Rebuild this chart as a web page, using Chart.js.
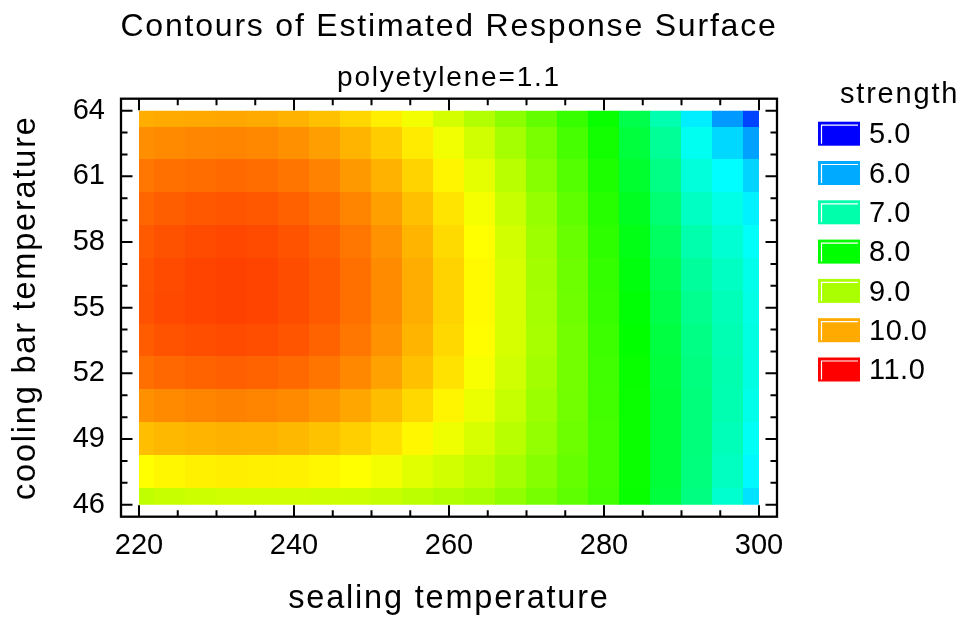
<!DOCTYPE html>
<html>
<head>
<meta charset="utf-8">
<title>Contours of Estimated Response Surface</title>
<script src="https://cdn.jsdelivr.net/npm/chart.js@4.4.1/dist/chart.umd.min.js"></script>
<style>
  html, body { margin: 0; padding: 0; background: #fff; }
  #wrap { width: 964px; height: 624px; }
</style>
</head>
<body>
<div id="wrap"><canvas id="chart" width="964" height="624"></canvas></div>
<script>
// grid the surface was read on (x: sealing temperature, y: cooling bar temperature)
const sealingTemps = [220, 224, 228, 232, 236, 240, 244, 248, 252, 256, 260, 264, 268, 272, 276, 280, 284, 288, 292, 296, 300]
const coolingTemps = [64, 62.5, 61, 59.5, 58, 56.5, 55, 53.5, 52, 50.5, 49, 47.5, 46]

// estimated strength, one row per cooling temperature (top row = 64)
const strength = [
  [9.98, 10.00, 10.01, 10.02, 10.00, 9.95, 9.87, 9.74, 9.60, 9.43, 9.24, 9.04, 8.82, 8.58, 8.32, 8.04, 7.55, 6.97, 6.40, 5.90, 5.40],
  [10.16, 10.19, 10.21, 10.22, 10.20, 10.15, 10.07, 9.94, 9.80, 9.62, 9.42, 9.22, 8.97, 8.71, 8.41, 8.10, 7.64, 7.11, 6.58, 6.27, 5.95],
  [10.30, 10.34, 10.36, 10.38, 10.36, 10.31, 10.23, 10.10, 9.95, 9.76, 9.56, 9.35, 9.09, 8.80, 8.49, 8.16, 7.73, 7.22, 6.72, 6.49, 6.25],
  [10.40, 10.45, 10.48, 10.50, 10.48, 10.43, 10.35, 10.22, 10.06, 9.87, 9.66, 9.44, 9.17, 8.88, 8.56, 8.22, 7.81, 7.33, 6.85, 6.64, 6.42],
  [10.47, 10.52, 10.56, 10.58, 10.56, 10.51, 10.43, 10.30, 10.14, 9.94, 9.72, 9.50, 9.23, 8.93, 8.61, 8.27, 7.88, 7.43, 6.98, 6.76, 6.54],
  [10.51, 10.56, 10.60, 10.62, 10.60, 10.55, 10.47, 10.34, 10.18, 9.98, 9.76, 9.53, 9.26, 8.96, 8.64, 8.30, 7.93, 7.51, 7.08, 6.85, 6.62],
  [10.52, 10.57, 10.60, 10.62, 10.60, 10.55, 10.47, 10.34, 10.18, 9.98, 9.76, 9.53, 9.26, 8.97, 8.66, 8.32, 7.97, 7.57, 7.16, 6.91, 6.66],
  [10.46, 10.51, 10.54, 10.56, 10.54, 10.50, 10.42, 10.30, 10.14, 9.94, 9.73, 9.51, 9.26, 8.98, 8.68, 8.35, 8.01, 7.62, 7.22, 6.95, 6.68],
  [10.35, 10.39, 10.42, 10.44, 10.42, 10.38, 10.31, 10.20, 10.05, 9.87, 9.67, 9.46, 9.22, 8.96, 8.68, 8.37, 8.04, 7.65, 7.26, 6.97, 6.67],
  [10.15, 10.19, 10.22, 10.24, 10.22, 10.19, 10.12, 10.02, 9.89, 9.73, 9.56, 9.38, 9.16, 8.92, 8.67, 8.39, 8.06, 7.67, 7.28, 6.96, 6.63],
  [9.88, 9.92, 9.94, 9.96, 9.95, 9.92, 9.86, 9.78, 9.68, 9.55, 9.41, 9.27, 9.08, 8.87, 8.64, 8.40, 8.06, 7.67, 7.28, 6.92, 6.56],
  [9.50, 9.55, 9.58, 9.60, 9.59, 9.58, 9.55, 9.50, 9.43, 9.33, 9.23, 9.13, 8.97, 8.79, 8.60, 8.40, 8.06, 7.67, 7.27, 6.87, 6.46],
  [9.13, 9.17, 9.20, 9.22, 9.22, 9.22, 9.21, 9.20, 9.16, 9.10, 9.04, 8.98, 8.85, 8.70, 8.55, 8.38, 8.04, 7.65, 7.25, 6.79, 6.33]
]

const xTicks = [220, 240, 260, 280, 300]
const yTicks = [46, 49, 52, 55, 58, 61, 64]
const legendValues = [5, 6, 7, 8, 9, 10, 11]

const FONT = '"Liberation Sans", Arial, Helvetica, sans-serif'
Chart.defaults.font.family = FONT
Chart.defaults.color = '#000'

// hue runs blue (5) -> red (11), same as the legend swatches
function strengthColor (v) {
  const lo = legendValues[0]
  const hi = legendValues[legendValues.length - 1]
  const t = Math.max(0, Math.min(1, (v - lo) / (hi - lo)))
  return 'hsl(' + (240 - 240 * t) + ', 100%, 50%)'
}

const cells = []
coolingTemps.forEach((y, j) => {
  sealingTemps.forEach((x, i) => {
    cells.push({ x: x, y: y, v: strength[j][i] })
  })
})

const surfacePlugin = {
  id: 'surface',
  afterLayout: chart => {
    // the main title is a bit wider than the plot, let it overhang
    const t = chart.titleBlock
    if (t) {
      t.left -= 60
      t.right += 60
    }
  },
  beforeDraw: chart => {
    // titles are drawn before the datasets, give them a little tracking
    chart.ctx.letterSpacing = '1.8px'
  },
  beforeDatasetsDraw: chart => {
    const { ctx, chartArea } = chart
    const xs = chart.scales.x
    const ys = chart.scales.y
    const halfX = (sealingTemps[1] - sealingTemps[0]) / 2
    const halfY = (coolingTemps[0] - coolingTemps[1]) / 2
    ctx.save()
    ctx.beginPath()
    ctx.rect(chartArea.left, chartArea.top, chartArea.width, chartArea.height)
    ctx.clip()
    cells.forEach(c => {
      const x0 = Math.floor(xs.getPixelForValue(c.x - halfX))
      const x1 = Math.ceil(xs.getPixelForValue(c.x + halfX))
      const y0 = Math.floor(ys.getPixelForValue(c.y + halfY))
      const y1 = Math.ceil(ys.getPixelForValue(c.y - halfY))
      ctx.fillStyle = strengthColor(c.v)
      ctx.fillRect(x0, y0, x1 - x0, y1 - y0)
    })
    ctx.restore()
  },
  afterDatasetsDraw: chart => {
    const { ctx, chartArea } = chart
    const xs = chart.scales.x
    const ys = chart.scales.y
    const L = chartArea.left - 18
    const R = chartArea.right + 18
    const T = chartArea.top - 12
    const B = chartArea.bottom + 12
    ctx.save()
    ctx.strokeStyle = '#000'
    ctx.lineWidth = 2.3
    ctx.strokeRect(L, T, R - L, B - T)
    ctx.lineWidth = 2
    ctx.beginPath()
    for (let v = xs.min; v <= xs.max; v += 5) {
      const len = xTicks.includes(v) ? 11.5 : 6.5
      const px = xs.getPixelForValue(v)
      ctx.moveTo(px, B); ctx.lineTo(px, B - len)
      ctx.moveTo(px, T); ctx.lineTo(px, T + len)
    }
    for (let v = ys.min; v <= ys.max; v += 1) {
      const len = yTicks.includes(v) ? 11.5 : 6.5
      const py = ys.getPixelForValue(v)
      ctx.moveTo(L, py); ctx.lineTo(L + len, py)
      ctx.moveTo(R, py); ctx.lineTo(R - len, py)
    }
    ctx.stroke()
    ctx.restore()
    // tick labels come next, plain spacing for them
    ctx.letterSpacing = '0px'
  },
  afterDraw: chart => {
    const ctx = chart.ctx
    const box = { left: 818, top: 121.7, width: 42, height: 24, step: 39.3 }
    ctx.save()
    ctx.font = '29px ' + FONT
    ctx.textBaseline = 'alphabetic'
    ctx.textAlign = 'left'
    ctx.fillStyle = '#000'
    ctx.letterSpacing = '1.8px'
    ctx.fillText('strength', 840, 103.3)
    ctx.letterSpacing = '0.5px'
    legendValues.forEach((v, i) => {
      const top = box.top + i * box.step
      ctx.fillStyle = strengthColor(v)
      ctx.fillRect(box.left, top, box.width, box.height)
      ctx.strokeStyle = '#fff'
      ctx.lineWidth = 1.2
      ctx.beginPath()
      ctx.moveTo(box.left + 3.5, top + box.height - 2)
      ctx.lineTo(box.left + 3.5, top + 3.5)
      ctx.lineTo(box.left + box.width - 2, top + 3.5)
      ctx.stroke()
      ctx.fillStyle = '#000'
      ctx.fillText(v.toFixed(1), 869, top + 21.6)
    })
    ctx.restore()
  }
}

const config = {
  type: 'scatter',
  data: {
    datasets: [
      {
        label: 'strength',
        data: cells,
        pointRadius: 0,
        pointHoverRadius: 0
      }
    ]
  },
  plugins: [surfacePlugin],
  options: {
    responsive: false,
    animation: false,
    events: [],
    layout: { padding: { left: 0, right: 205, top: 0, bottom: 0 } },
    plugins: {
      legend: { display: false },
      tooltip: { enabled: false },
      title: {
        display: true,
        text: 'Contours of Estimated Response Surface',
        fullSize: false,
        color: '#000',
        font: { size: 32, weight: 'normal', lineHeight: 1.2 },
        padding: { top: 7.8, bottom: 0 }
      },
      subtitle: {
        display: true,
        text: 'polyetylene=1.1',
        fullSize: false,
        color: '#000',
        font: { size: 28, weight: 'normal', lineHeight: 1.2 },
        padding: { top: 15.3, bottom: 15.6 }
      }
    },
    scales: {
      x: {
        type: 'linear',
        position: 'bottom',
        min: 220,
        max: 300,
        afterBuildTicks: s => { s.ticks = xTicks.map(value => ({ value })) },
        afterFit: s => { s.height = 119.3 },
        grid: { display: false, drawTicks: false },
        border: { display: false },
        ticks: { z: 1, autoSkip: false, maxRotation: 0, padding: 24, font: { size: 29 }, color: '#000' },
        title: {
          display: true,
          text: 'sealing temperature',
          color: '#000',
          font: { size: 32.5, lineHeight: 1.2 },
          padding: { top: 0, bottom: 5.2 }
        }
      },
      y: {
        type: 'linear',
        min: 46,
        max: 64,
        afterBuildTicks: s => { s.ticks = yTicks.map(value => ({ value })) },
        afterFit: s => { s.width = 139 },
        grid: { display: false, drawTicks: false },
        border: { display: false },
        ticks: { z: 1, autoSkip: false, padding: 34, font: { size: 29 }, color: '#000' },
        title: {
          display: true,
          text: 'cooling bar temperature',
          color: '#000',
          font: { size: 32.5, lineHeight: 1.2 },
          padding: { top: 6.5, bottom: 0 }
        }
      }
    }
  }
}

const chart = new Chart(document.getElementById('chart'), config)
</script>
</body>
</html>
